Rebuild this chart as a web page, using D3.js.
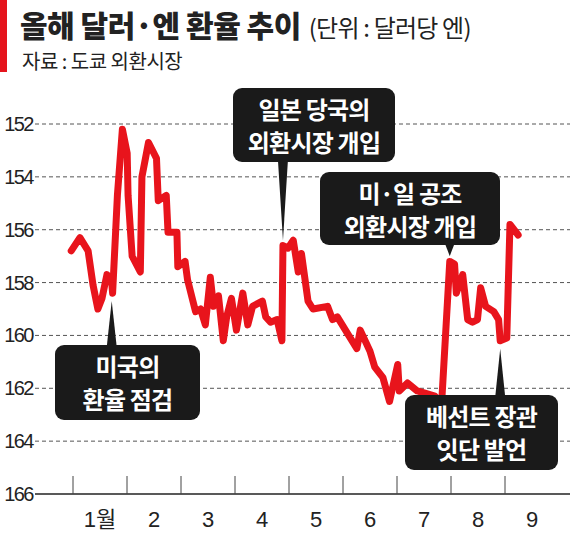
<!DOCTYPE html>
<html><head><meta charset="utf-8">
<script src="https://cdn.jsdelivr.net/npm/d3@7"></script>
<style>body{margin:0;background:#fff}svg{display:block}</style>
</head><body>
<script>
const days = [-1,3.9,8.5,11.3,14,16.3,19.1,21.8,22.3,25,27.8,30.5,31,33.3,37.9,38.8,42.5,47,48,52.5,53.5,58.5,59,63.1,64.5,69,71.8,74.5,77.3,79.1,81.9,84.6,86.5,89.2,92,95.6,98.4,101.1,106.6,108.5,111.2,114.9,117.6,118.2,121,124,126.8,128.6,132.3,135.1,143.3,146.1,148.8,155.2,159.8,161.7,167.2,169.9,174.5,178.2,182.8,183.7,188.3,193.8,203.8,207.5,212.1,214.8,215.8,219.4,222.2,224.9,227.7,229.5,232.3,236.9,239.6,240.5,244.2,246,250.6];
const rates = [156.8,156.3,156.8,158.1,159.0,158.6,157.7,158.0,158.4,154.7,152.2,153.1,154.7,157.0,157.6,154.0,152.7,153.3,154.9,154.7,156.1,156.1,157.4,157.2,157.9,159.1,159.0,159.6,157.8,158.9,158.5,160.2,159.3,158.6,159.8,158.4,159.6,158.9,158.7,159.3,159.5,159.4,160.2,156.6,156.7,156.4,157.6,156.9,158.7,159.0,158.9,159.4,159.3,160.0,160.5,159.8,160.6,161.2,161.6,162.5,161.1,162.1,161.8,162.1,162.3,162.6,157.2,157.3,158.4,157.7,159.4,159.5,159.4,158.2,158.9,159.1,159.4,160.2,160.1,155.8,156.2];
const yTicks = [152,154,156,158,160,162,164,166];
const monthLabels = ["1월","2","3","4","5","6","7","8","9"];
const callouts = [
  {lines:["일본 당국의","외환시장 개입"], day:118.2, v:156.4, box:[233,88,162,74], dir:"down"},
  {lines:["미·일 공조","외환시장 개입"], day:212.1, v:157.0, box:[320,172,180,73], dir:"down"},
  {lines:["미국의","환율 점검"], day:21.8, v:158.7, box:[55,345,145,75], dir:"up"},
  {lines:["베선트 장관","잇단 발언"], day:240.5, v:160.5, box:[405,395,153,75], dir:"up"}
];

const W=570,H=536;
const svg=d3.select("body").append("svg").attr("width",W).attr("height",H);
const x=d3.scaleLinear().domain([0,30.4*9]).range([73,73+54*9]);
const y=d3.scaleLinear().domain([152,166]).range([124,494]);
const font="'Liberation Sans Narrow','Liberation Sans','Noto Sans CJK KR',sans-serif";
const kfont="'Noto Sans CJK KR',sans-serif";

// header
svg.append("rect").attr("x",0).attr("y",0).attr("width",7).attr("height",72).attr("fill","#e5141d");
const t=svg.append("text").attr("x",20).attr("y",37).attr("font-family",kfont).attr("fill","#222");
t.append("tspan").attr("font-size",30).attr("font-weight",900).attr("letter-spacing",-0.5).text("올해 달러·엔 환율 추이");
t.append("tspan").attr("font-size",24).attr("font-weight",400).attr("dx",8).attr("letter-spacing",-0.8).text("(단위 : 달러당 엔)");
svg.append("text").attr("x",22).attr("y",69).attr("font-family",kfont).attr("font-size",20).attr("letter-spacing",-0.5).attr("fill","#222").text("자료 : 도쿄 외환시장");

// grid
yTicks.forEach(v=>{
  if(v<166) svg.append("line").attr("x1",35).attr("x2",570).attr("y1",y(v)).attr("y2",y(v))
    .attr("stroke","#555").attr("stroke-width",1).attr("stroke-dasharray","4,3");
  svg.append("text").attr("x",33).attr("y",y(v)+7).attr("text-anchor","end")
    .attr("font-family",font).attr("font-size",20).attr("letter-spacing",-1.5).attr("fill","#222").text(v);
});
svg.append("line").attr("x1",35).attr("x2",570).attr("y1",y(166)).attr("y2",y(166)).attr("stroke","#222").attr("stroke-width",1.3);
monthLabels.forEach((m,i)=>{
  svg.append("line").attr("x1",x(i*30.4)).attr("x2",x(i*30.4)).attr("y1",y(166)).attr("y2",y(166)-18).attr("stroke","#444");
  svg.append("text").attr("x",x(i*30.4+15.2)).attr("y",527).attr("text-anchor","middle")
    .attr("font-family",font).attr("font-size",22).attr("fill","#222").text(m);
});

// line
const data=days.map((d,i)=>[d,rates[i]]);
svg.append("path").datum(data).attr("d",d3.line().x(d=>x(d[0])).y(d=>y(d[1])))
  .attr("fill","none").attr("stroke","#e8141c").attr("stroke-width",7).attr("stroke-linejoin","round").attr("stroke-linecap","round");

// callouts
callouts.forEach(c=>{
  const [bx,by,bw,bh]=c.box, px=x(c.day), py=y(c.v);
  const baseY = c.dir==="down"? by+bh-2 : by+2;
  svg.append("path").attr("d",`M${px-5},${baseY}L${px+5},${baseY}L${px},${py}Z`).attr("fill","#1a1a1a");
  svg.append("rect").attr("x",bx).attr("y",by).attr("width",bw).attr("height",bh).attr("rx",9).attr("fill","#1a1a1a");
  c.lines.forEach((l,i)=>svg.append("text").attr("x",bx+bw/2).attr("y",by+31+i*33).attr("text-anchor","middle")
    .attr("font-family",kfont).attr("font-size",24).attr("font-weight",700).attr("letter-spacing",-0.8).attr("fill","#fff").text(l));
});
</script>
</body></html>
